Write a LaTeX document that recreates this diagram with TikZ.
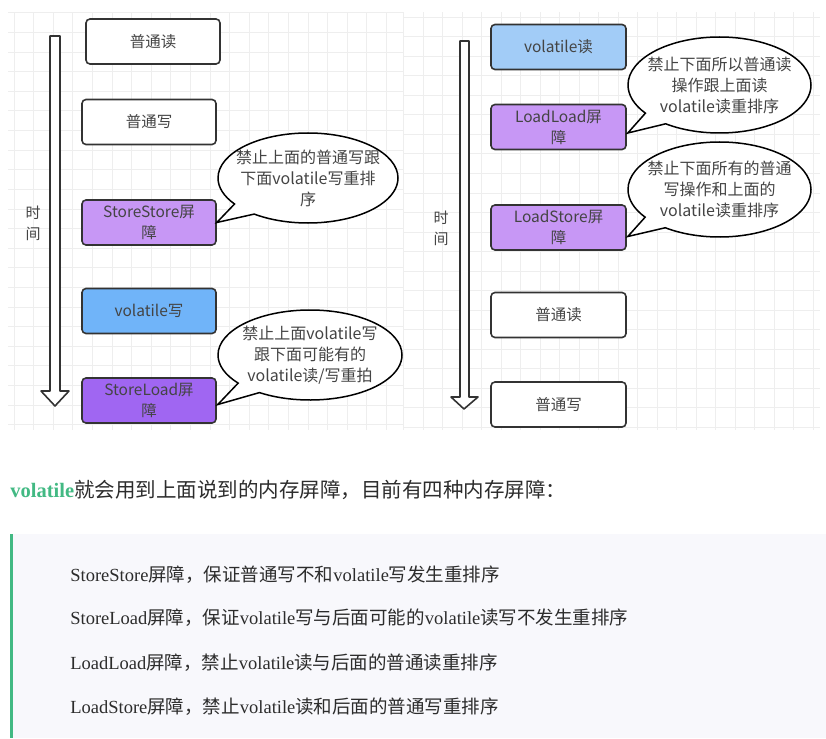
\documentclass[tikz,border=0pt]{standalone}
\usepackage{fontspec}
\setmainfont{Liberation Serif}
\newfontfamily\cjk{Noto Sans CJK SC}
\usetikzlibrary{shapes.callouts,calc}

\definecolor{gridgray}{RGB}{238,238,238}
\definecolor{boxline}{RGB}{51,51,51}
\definecolor{txtgray}{RGB}{68,68,68}
\definecolor{barrier}{RGB}{199,151,245}
\definecolor{barrierdark}{RGB}{160,102,242}
\definecolor{vwrite}{RGB}{112,180,249}
\definecolor{vread}{RGB}{162,204,247}
\definecolor{vuegreen}{RGB}{66,185,131}
\definecolor{quotebg}{RGB}{248,248,252}
\definecolor{bodytext}{RGB}{44,44,44}

\newcommand{\zh}[1]{{\cjk #1}}

\tikzset{
  every picture/.style={line width=0.75pt},
  gridline/.style={draw=gridgray, line width=1pt},
  opbox/.style={draw=boxline, line width=1.6pt, rounded corners=4pt, fill=white,
    minimum width=134pt, minimum height=45pt, inner sep=0pt, align=center,
    font=\cjk\fontsize{15.5}{21}\selectfont, text=txtgray},
  bubble/.style={ellipse callout, draw=black, line width=1.5pt, fill=white,
    inner sep=0pt, callout pointer arc=18},
  bubbletext/.style={align=center, inner sep=0pt,
    font=\cjk\fontsize{16}{21}\selectfont, text=txtgray},
  timearrow/.style={draw=boxline, line width=1.6pt, fill=white, line join=round},
  timelabel/.style={align=center, inner sep=0pt,
    font=\cjk\fontsize{15}{21}\selectfont, text=txtgray},
  quoteline/.style={anchor=west, inner sep=0pt,
    font=\fontsize{18.5}{22}\selectfont, text=bodytext}
}

\begin{document}
\begin{tikzpicture}[x=1pt,y=1pt,yscale=-1,xscale=1]
    \useasboundingbox (0,0) rectangle (826,738);

    %Grid: left panel
    \foreach \gx in {0,...,19} \draw[gridline] (14+19.6*\gx,12) -- (14+19.6*\gx,430);
    \foreach \gy in {0,...,21} \draw[gridline] (8,13+19.6*\gy) -- (403,13+19.6*\gy);
    %Grid: right panel
    \foreach \gx in {0,...,21} \draw[gridline] (403.5+19.5*\gx,12) -- (403.5+19.5*\gx,430);
    \foreach \gy in {0,...,21} \draw[gridline] (403,17.5+19.5*\gy) -- (820,17.5+19.5*\gy);

    %Shape: Hollow arrow (left)
    \draw[timearrow] (50,36) -- (60,36) -- (60,391) -- (69,391) -- (55,406) -- (41,391) -- (50,391) -- cycle;
    %Shape: Hollow arrow (right)
    \draw[timearrow] (460,41) -- (469,41) -- (469,397) -- (478,397) -- (464,409) -- (451,397) -- (460,397) -- cycle;

    % Text Node
    \node[timelabel] (timeL) at (33,223) {时\\间};
    \node[timelabel] (timeR) at (441,228) {时\\间};

    %Boxes: left column
    \node[opbox] (readL) at (153,41.5) {普通读};
    \node[opbox] (writeL) at (149,122) {普通写};
    \node[opbox, fill=barrier] (ss) at (149,222.5) {StoreStore屏\\障};
    \node[opbox, fill=vwrite] (vw) at (149,311) {volatile写};
    \node[opbox, fill=barrierdark] (sl) at (149,400.5) {StoreLoad屏\\障};

    %Boxes: right column
    \node[opbox, fill=vread, minimum width=135pt] (vr) at (558.5,47) {volatile读};
    \node[opbox, fill=barrier, minimum width=135pt] (ll) at (558.5,127) {LoadLoad屏\\障};
    \node[opbox, fill=barrier, minimum width=135pt] (ls) at (558.5,227.5) {LoadStore屏\\障};
    \node[opbox, minimum width=135pt] (readR) at (558.5,315) {普通读};
    \node[opbox, minimum width=135pt] (writeR) at (558.5,404.5) {普通写};

    %Callouts
    \node[bubble, minimum width=180pt, minimum height=90pt,
      callout absolute pointer={(ss.east)},
      label={[bubbletext]center:禁止上面的普通写跟\\下面volatile写重排\\序}] (noteSS) at (308,178) {};
    \node[bubble, minimum width=184pt, minimum height=90pt,
      callout absolute pointer={($(sl.east)+(1,4)$)},
      label={[bubbletext]center:禁止上面volatile写\\跟下面可能有的\\volatile读/写重拍}] (noteSL) at (310,355) {};
    \node[bubble, minimum width=183pt, minimum height=96pt,
      callout absolute pointer={($(ll.east)+(1,6)$)},
      label={[bubbletext]center:禁止下面所以普通读\\操作跟上面读\\volatile读重排序}] (noteLL) at (719.5,85) {};
    \node[bubble, minimum width=183pt, minimum height=95pt,
      callout absolute pointer={($(ls.east)+(1,9)$)},
      label={[bubbletext]center:禁止下面所有的普通\\写操作和上面的\\volatile读重排序}] (noteLS) at (719.5,189.5) {};

    % Text Node
    \node[anchor=west, inner sep=0pt, font=\fontsize{20.5}{24}\selectfont, text=bodytext] (intro) at (10,490)
      {\textbf{\color{vuegreen}volatile}\zh{就会用到上面说到的内存屏障，目前有四种内存屏障：}};

    %Shape: Quote block
    \fill[quotebg] (13,534) rectangle (826,738);
    \fill[vuegreen] (10,534) rectangle (13,738);

    % Text Node
    \node[quoteline] (qSS) at (70,575) {StoreStore\zh{屏障，保证普通写不和}volatile\zh{写发生重排序}};
    \node[quoteline] (qSL) at (70,618) {StoreLoad\zh{屏障，保证}volatile\zh{写与后面可能的}volatile\zh{读写不发生重排序}};
    \node[quoteline] (qLL) at (70,663) {LoadLoad\zh{屏障，禁止}volatile\zh{读与后面的普通读重排序}};
    \node[quoteline] (qLS) at (70,707) {LoadStore\zh{屏障，禁止}volatile\zh{读和后面的普通写重排序}};

\end{tikzpicture}
\end{document}
